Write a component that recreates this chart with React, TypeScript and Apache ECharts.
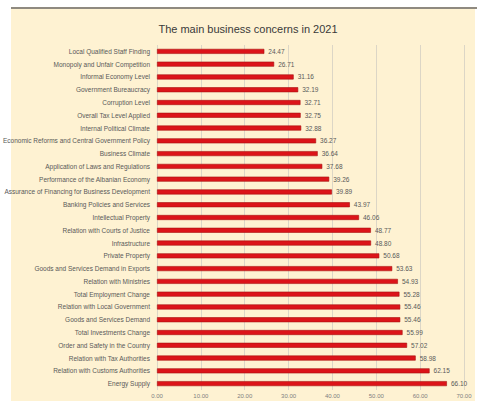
import React, { useEffect, useRef } from "react";
import * as echarts from "echarts";

const categories = [
  "Local Qualified Staff Finding",
  "Monopoly and Unfair Competition",
  "Informal Economy Level",
  "Government Bureaucracy",
  "Corruption Level",
  "Overall Tax Level Applied",
  "Internal Political Climate",
  "Economic Reforms and Central Government Policy",
  "Business Climate",
  "Application of Laws and Regulations",
  "Performance of the Albanian Economy",
  "Assurance of Financing for Business Development",
  "Banking Policies and Services",
  "Intellectual Property",
  "Relation with Courts of Justice",
  "Infrastructure",
  "Private Property",
  "Goods and Services Demand in Exports",
  "Relation with Ministries",
  "Total Employment Change",
  "Relation with Local Government",
  "Goods and Services Demand",
  "Total Investments Change",
  "Order and Safety in the Country",
  "Relation with Tax Authorities",
  "Relation with Customs Authorities",
  "Energy Supply",
];

const values = [
  24.47, 26.71, 31.16, 32.19, 32.71, 32.75, 32.88, 36.27, 36.64, 37.68, 39.26,
  39.89, 43.97, 46.06, 48.77, 48.8, 50.68, 53.63, 54.93, 55.28, 55.46, 55.46,
  55.99, 57.02, 58.98, 62.15, 66.1,
];

const title = "The main business concerns in 2021";

const FONT = "'Liberation Sans', Arial, sans-serif";

export default function App() {
  const ref = useRef<HTMLDivElement>(null);
  useEffect(() => {
    if (!ref.current) return;
    const chart = echarts.init(ref.current, null, { renderer: "svg" });
    chart.setOption({
      animation: false,
      backgroundColor: "#ffffff",
      graphic: [
        {
          type: "rect",
          z: -10,
          shape: { x: 11, y: 8, width: 464, height: 393 },
          style: { fill: "#fef2d2" },
          silent: true,
        },
        {
          type: "rect",
          z: -9,
          shape: { x: 11, y: 7, width: 466, height: 2 },
          style: { fill: "#8f8a80" },
          silent: true,
        },
      ],
      title: {
        text: title,
        left: 243,
        textAlign: "center",
        top: 18,
        textStyle: {
          fontFamily: FONT,
          fontSize: 11,
          fontWeight: "normal",
          color: "#3a3a3a",
        },
      },
      grid: {
        left: 157,
        right: 13,
        top: 45,
        bottom: 11,
        containLabel: false,
        outerBoundsMode: "none",
      },
      xAxis: {
        type: "value",
        min: 0,
        max: 70,
        interval: 10,
        axisLine: { show: false },
        axisTick: { show: false },
        axisLabel: {
          formatter: (v: number) => v.toFixed(2),
          fontFamily: FONT,
          fontSize: 6,
          color: "#7f7f7f",
          margin: 3,
        },
        splitLine: { lineStyle: { color: "#dcd6c6", width: 1 } },
      },
      yAxis: {
        type: "category",
        data: categories,
        inverse: true,
        axisLine: { show: false },
        axisTick: { show: false },
        axisLabel: {
          fontFamily: FONT,
          fontSize: 6.5,
          color: "#595959",
          margin: 7,
          interval: 0,
        },
      },
      series: [
        {
          type: "bar",
          data: values,
          barWidth: 5,
          itemStyle: {
            color: "#dc1419",
            borderColor: "#a8100f",
            borderWidth: 0.6,
          },
          label: {
            show: true,
            position: "right",
            distance: 4,
            formatter: (p: any) => Number(p.value).toFixed(2),
            fontFamily: FONT,
            fontSize: 6.5,
            color: "#595959",
          },
        },
      ],
    });
    return () => chart.dispose();
  }, []);
  return (
    <div
      ref={ref}
      style={{ position: "fixed", left: 0, top: 0, width: 477, height: 401 }}
    />
  );
}
